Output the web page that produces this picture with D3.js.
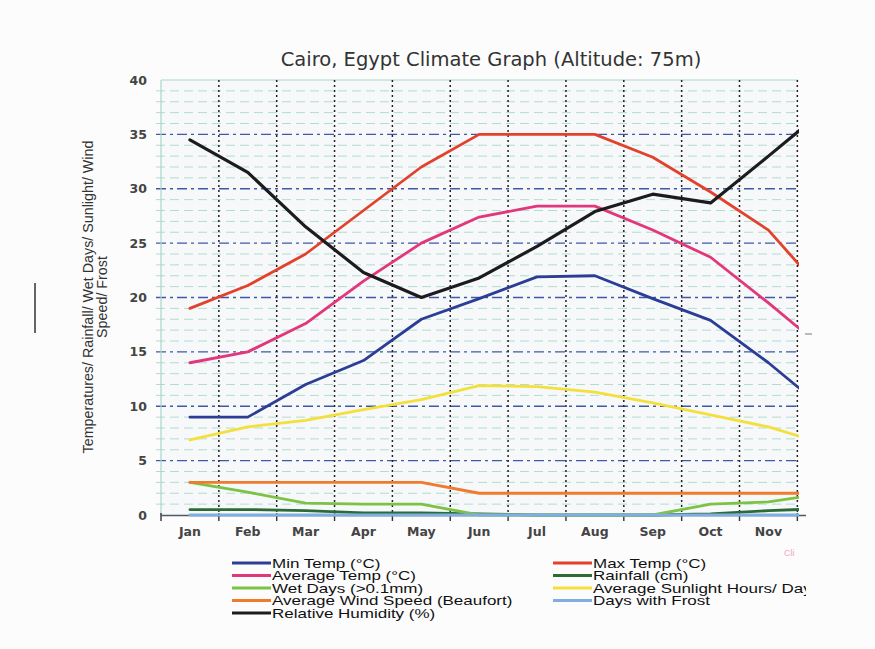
<!DOCTYPE html>
<html><head><meta charset="utf-8">
<script src="https://cdn.jsdelivr.net/npm/d3@7"></script>
<style>
html,body{margin:0;padding:0;background:#fcfcfd;}
svg{display:block;}
</style></head>
<body>
<script>
const months = ["Jan","Feb","Mar","Apr","May","Jun","Jul","Aug","Sep","Oct","Nov","Dec"];
const yTicks = [0,5,10,15,20,25,30,35,40];
const minTemp  = [9, 9, 12, 14.2, 18, 19.9, 21.9, 22, 19.9, 17.9, 14, 9.6];
const maxTemp  = [19, 21.1, 24, 28, 32, 35, 35, 35, 32.9, 29.7, 26.2, 20.2];
const avgTemp  = [14, 15, 17.6, 21.5, 25, 27.4, 28.4, 28.4, 26.2, 23.7, 19.5, 15.1];
const rainfall = [0.5, 0.5, 0.4, 0.2, 0.2, 0.1, 0, 0, 0, 0.1, 0.4, 0.6];
const wetDays  = [3, 2.1, 1.1, 1, 1, 0, 0, 0, 0, 1, 1.2, 2];
const sunlight = [6.9, 8.1, 8.7, 9.7, 10.6, 11.9, 11.8, 11.3, 10.3, 9.2, 8.1, 6.5];
const wind     = [3, 3, 3, 3, 3, 2, 2, 2, 2, 2, 2, 2];
const frost    = [0, 0, 0, 0, 0, 0, 0, 0, 0, 0, 0, 0];
const humidity = [34.5, 31.5, 26.5, 22.3, 20, 21.8, 24.7, 27.9, 29.5, 28.7, 33, 37.4];

const seriesNames = ["Min Temp (°C)","Max Temp (°C)","Average Temp (°C)","Rainfall (cm)","Wet Days (>0.1mm)","Average Sunlight Hours/ Day","Average Wind Speed (Beaufort)","Days with Frost","Relative Humidity (%)"];
const seriesValues = [minTemp, maxTemp, avgTemp, rainfall, wetDays, sunlight, wind, frost, humidity];
const seriesColors = ["#2b3d94","#e2412c","#e2377a","#2c6a36","#7cc244","#f3e03c","#f07b2c","#7faee0","#1c1c1c"];

const W = 875, H = 649;
const svg = d3.select("body").append("svg").attr("width", W).attr("height", H);
svg.append("defs").append("clipPath").attr("id","pageClip").append("rect").attr("x",0).attr("y",0).attr("width",806).attr("height",H);
svg.select("defs").append("clipPath").attr("id","plotClip").append("rect").attr("x",158).attr("y",70).attr("width",641).attr("height",460);

const root = svg.append("g").attr("clip-path","url(#pageClip)");

const left = 161, bw = 57.85;
const x = d3.scaleBand().domain(months).range([left, left + bw*12]).paddingInner(0).paddingOuter(0);
const xc = m => x(m) + x.bandwidth()/2;
const y = d3.scaleLinear().domain([0,40]).range([515,80]);

// plot background
root.append("rect").attr("x",left).attr("y",y(40)).attr("width",798-left).attr("height",y(0)-y(40)).attr("fill","#f7f8fa");

// title
root.append("text").attr("x",491).attr("y",66).attr("text-anchor","middle")
  .attr("font-family","DejaVu Sans, Verdana, sans-serif").attr("font-size",19.5).attr("fill","#333")
  .text("Cairo, Egypt Climate Graph (Altitude: 75m)");

// horizontal grid
const minor = d3.range(1,40).filter(v => v % 5 !== 0);
root.append("g").selectAll("line").data(minor).join("line")
  .attr("x1",156).attr("x2",798).attr("y1",d=>y(d)).attr("y2",d=>y(d))
  .attr("stroke","#b2dccf").attr("stroke-width",1).attr("stroke-dasharray","9,5");
root.append("g").selectAll("line").data([5,10,15,20,25,30,35]).join("line")
  .attr("x1",156).attr("x2",798).attr("y1",d=>y(d)).attr("y2",d=>y(d))
  .attr("stroke","#3c5aa8").attr("stroke-width",1.3).attr("stroke-dasharray","10,4,3,4");
root.append("line").attr("x1",left).attr("x2",798).attr("y1",y(40)).attr("y2",y(40)).attr("stroke","#a9d6c9").attr("stroke-width",1.2);
root.append("line").attr("x1",left).attr("x2",left).attr("y1",y(40)).attr("y2",y(0)).attr("stroke","#a9d6c9").attr("stroke-width",1.2);

// vertical dotted grid at band boundaries
const bounds = months.slice(1);
root.append("g").selectAll("line").data(bounds).join("line")
  .attr("x1",d=>x(d)).attr("x2",d=>x(d)).attr("y1",y(40)).attr("y2",y(0))
  .attr("stroke","#222").attr("stroke-width",1.5).attr("stroke-dasharray","2,3");

// y axis labels
const yAxis = d3.axisLeft(y).tickValues(yTicks).tickSize(0).tickPadding(14);
const ya = root.append("g").attr("transform",`translate(${left},0)`).call(yAxis);
ya.select(".domain").remove();
ya.selectAll("text").attr("font-family","DejaVu Sans, Verdana, sans-serif").attr("font-weight","bold").attr("font-size",12.5).attr("fill","#444");

// x axis
const xAxis = d3.axisBottom(x).tickSize(0).tickPadding(12);
const xa = root.append("g").attr("transform",`translate(0,${y(0)})`).call(xAxis);
xa.select(".domain").attr("stroke","#4a5a66").attr("stroke-width",1.5);
xa.selectAll("text").attr("font-family","DejaVu Sans, Verdana, sans-serif").attr("font-weight","bold").attr("font-size",12.5).attr("fill","#444");
root.append("g").selectAll("line").data(months).join("line")
  .attr("x1",d=>x(d)).attr("x2",d=>x(d)).attr("y1",y(0)-2).attr("y2",y(0)+6)
  .attr("stroke","#333").attr("stroke-width",1.4);

// y title
const yt = root.append("text").attr("transform","translate(97,297) rotate(-90)").attr("text-anchor","middle")
  .attr("font-family","Liberation Sans, Arial, sans-serif").attr("font-size",14.3).attr("fill","#333");
yt.append("tspan").attr("x",0).attr("dy",-4).text("Temperatures/ Rainfall/ Wet Days/ Sunlight/ Wind");
yt.append("tspan").attr("x",0).attr("dy",14).text("Speed/ Frost");

// lines
const plot = root.append("g").attr("clip-path","url(#plotClip)");
const line = d3.line().x((d,i)=>xc(months[i])).y(d=>y(d));
seriesValues.forEach((vals,i)=>{
  plot.append("path").datum(vals).attr("d",line).attr("fill","none")
    .attr("stroke",seriesColors[i]).attr("stroke-width", i===8 ? 3.2 : 2.8)
    .attr("stroke-linejoin","round").attr("stroke-linecap","round");
});

// legend
const legPos = [[232,563],[553,563],[232,575.5],[553,575.5],[232,588],[553,588],[232,600.5],[553,600.5],[232,613]];
const lg = root.append("g");
seriesNames.forEach((n,i)=>{
  const [lx,ly] = legPos[i];
  lg.append("line").attr("x1",lx).attr("x2",lx+39).attr("y1",ly).attr("y2",ly)
    .attr("stroke",seriesColors[i]).attr("stroke-width",3);
  lg.append("text").attr("transform",`translate(${lx+40},${ly+4.5}) scale(1,0.7)`)
    .attr("font-family","Liberation Sans, Arial, sans-serif")
    .attr("font-size",17).attr("fill","#111").text(n);
});

// scan remnants
root.append("text").attr("x",784).attr("y",556).attr("font-family","Liberation Sans, Arial, sans-serif").attr("font-size",9).attr("fill","#f2a8c0").text("Cli");
svg.append("line").attr("x1",35).attr("x2",35).attr("y1",283).attr("y2",333).attr("stroke","#333").attr("stroke-width",1.5);
svg.append("line").attr("x1",805).attr("x2",812).attr("y1",334).attr("y2",334).attr("stroke","#777").attr("stroke-width",1);
</script>
</body></html>
